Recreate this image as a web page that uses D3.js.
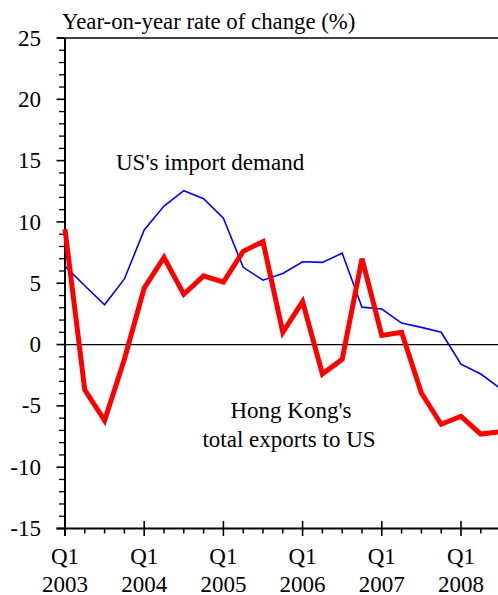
<!DOCTYPE html>
<html><head><meta charset="utf-8">
<script src="https://cdn.jsdelivr.net/npm/d3@7"></script>
<style>body{margin:0;background:#fff}svg{display:block}</style>
</head><body>
<svg id="c" width="498" height="595" font-family="'Liberation Serif', 'Times New Roman', Times, 'DejaVu Serif', serif"></svg>
<script>
// Quarters Q1 2003 .. Q3 2008 (index 0..22)
const usImportDemand = [6.4,4.8,3.25,5.35,9.35,11.3,12.55,11.9,10.3,6.3,5.25,5.8,6.75,6.7,7.45,3.05,2.9,1.75,1.4,1.0,-1.6,-2.4,-3.6];
const hkExportsToUS = [9.4,-3.7,-6.2,-1.2,4.6,7.1,4.1,5.6,5.1,7.6,8.4,1.0,3.5,-2.4,-1.2,7.0,0.75,1.0,-3.95,-6.5,-5.85,-7.3,-7.1];
const yTicks = [25,20,15,10,5,0,-5,-10,-15];
const yearLabels = ["2003","2004","2005","2006","2007","2008"];
const FONT = "'Liberation Serif', 'Times New Roman', Times, 'DejaVu Serif', serif";

const svg = d3.select("#c");
const x = d3.scaleLinear().domain([0,20]).range([65,461]);
const y = d3.scaleLinear().domain([-15,25]).range([528.5,38]);

// top frame line
svg.append("line").attr("x1",57).attr("x2",498).attr("y1",y(25)).attr("y2",y(25))
  .attr("stroke","#000").attr("stroke-width",1.6);

// zero line
svg.append("line").attr("x1",65).attr("x2",498).attr("y1",y(0)).attr("y2",y(0))
  .attr("stroke","#000").attr("stroke-width",1.3);

// y axis: minor ticks
const yMinor = d3.range(-15,26,1).filter(v=>v%5!==0);
svg.append("g").selectAll("line").data(yMinor).join("line")
  .attr("x1",59).attr("x2",65).attr("y1",d=>y(d)).attr("y2",d=>y(d))
  .attr("stroke","#000").attr("stroke-width",1.3);
svg.append("g").selectAll("line").data(yTicks).join("line")
  .attr("x1",56.5).attr("x2",65).attr("y1",d=>y(d)).attr("y2",d=>y(d))
  .attr("stroke","#000").attr("stroke-width",1.6);
svg.append("line").attr("x1",65).attr("x2",65).attr("y1",y(25)).attr("y2",536)
  .attr("stroke","#000").attr("stroke-width",2);
svg.append("g").selectAll("text").data(yTicks).join("text")
  .attr("x",41).attr("y",d=>y(d)).attr("dy","0.33em").attr("text-anchor","end")
  .attr("font-family",FONT).attr("font-size",23).text(d=>d);

// x axis
svg.append("line").attr("x1",56.5).attr("x2",498).attr("y1",y(-15)).attr("y2",y(-15))
  .attr("stroke","#000").attr("stroke-width",2);
const xq = d3.range(0,23);
svg.append("g").selectAll("line").data(xq.filter(q=>q%4!==0)).join("line")
  .attr("x1",d=>x(d)).attr("x2",d=>x(d)).attr("y1",y(-15)).attr("y2",533.5)
  .attr("stroke","#000").attr("stroke-width",1.5);
svg.append("g").selectAll("line").data(xq.filter(q=>q%4===0)).join("line")
  .attr("x1",d=>x(d)).attr("x2",d=>x(d)).attr("y1",521).attr("y2",536)
  .attr("stroke","#000").attr("stroke-width",1.6);
const xl = svg.append("g").selectAll("g").data(yearLabels).join("g")
  .attr("transform",(d,i)=>`translate(${x(i*4)},0)`);
xl.append("text").attr("y",564).attr("text-anchor","middle").attr("font-family",FONT).attr("font-size",23).text("Q1");
xl.append("text").attr("y",591.5).attr("text-anchor","middle").attr("font-family",FONT).attr("font-size",23).text(d=>d);

// lines
const line = d3.line().x((d,i)=>x(i)).y(d=>y(d));
svg.append("path").datum(usImportDemand).attr("d",line).attr("fill","none")
  .attr("stroke","#0000ff").attr("stroke-width",1.6).attr("stroke-linejoin","miter");
svg.append("path").datum(hkExportsToUS).attr("d",line).attr("fill","none")
  .attr("stroke","#ff0000").attr("stroke-width",5).attr("stroke-linejoin","miter");

// texts
svg.append("text").attr("x",62).attr("y",29).attr("font-family",FONT).attr("font-size",22.8).text("Year-on-year rate of change (%)");
svg.append("text").attr("x",116).attr("y",170).attr("font-family",FONT).attr("font-size",23).text("US's import demand");
svg.append("text").attr("x",291).attr("y",418).attr("text-anchor","middle").attr("font-family",FONT).attr("font-size",23).text("Hong Kong's");
svg.append("text").attr("x",289).attr("y",447).attr("text-anchor","middle").attr("font-family",FONT).attr("font-size",23).text("total exports to US");
</script>
</body></html>
